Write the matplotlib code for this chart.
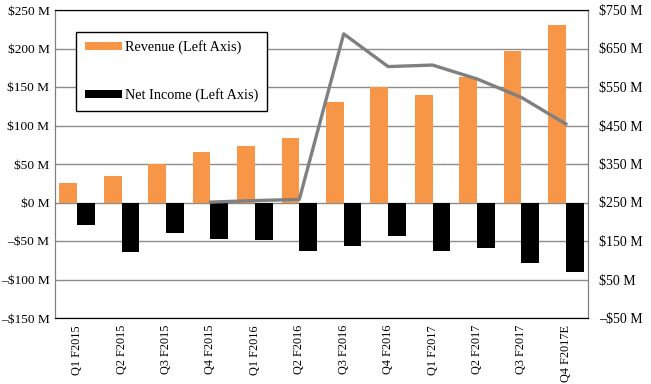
import matplotlib.pyplot as plt
import numpy as np
from matplotlib.ticker import FuncFormatter

quarters = ['Q1 F2015', 'Q2 F2015', 'Q3 F2015', 'Q4 F2015', 'Q1 F2016', 'Q2 F2016',
            'Q3 F2016', 'Q4 F2016', 'Q1 F2017', 'Q2 F2017', 'Q3 F2017', 'Q4 F2017E']
revenue = [25, 35, 50, 66, 74, 84, 131, 150, 140, 163, 197, 231]
net_income = [-29, -64, -40, -47, -49, -63, -57, -43, -63, -59, -79, -90]
# right axis series, starts at Q4 F2015
line_quarters = quarters[3:]
line_values = [251, 255, 258, 688, 603, 607, 571, 523, 454]

plt.rcParams['font.family'] = ['Liberation Serif', 'DejaVu Serif']

fig = plt.figure(figsize=(6.51, 3.84), dpi=100)
ax = fig.add_axes([55 / 651, 1 - 318 / 384, 533 / 651, 308 / 384])
ax2 = ax.twinx()

x = np.arange(len(quarters))
w = 0.4
ax.bar(x - w / 2, revenue, w, color='#F79646', label='Revenue (Left Axis)', zorder=3)
ax.bar(x + w / 2, net_income, w, color='black', label='Net Income (Left Axis)', zorder=3)

lx = [quarters.index(q) for q in line_quarters]
ax2.plot(lx, line_values, color='#808080', lw=2.4, zorder=4)

ax.set_xlim(-0.5, len(quarters) - 0.5)
ax.set_ylim(-150, 250)
ax.set_yticks(np.arange(-150, 251, 50))
ax2.set_ylim(-50, 750)
ax2.set_yticks(np.arange(-50, 751, 100))

fmt = FuncFormatter(lambda v, p: ('\u2013$%d M' % abs(v)) if v < 0 else ('$%d M' % v))
ax.yaxis.set_major_formatter(fmt)
ax2.yaxis.set_major_formatter(fmt)

ax.set_xticks(x)
ax.set_xticklabels(quarters, rotation=90, fontsize=8.8)
ax.tick_params(axis='y', length=0, labelsize=9.6, pad=4)
ax2.tick_params(axis='y', length=0, labelsize=10, pad=8)
ax.tick_params(axis='x', length=0, pad=5)

ax.grid(axis='y', color='#8c8c8c', lw=1, zorder=0)
for a in (ax, ax2):
    a.spines['left'].set_color('#7f7f7f')
    a.spines['right'].set_color('#7f7f7f')
    a.spines['top'].set_color('black')
    a.spines['bottom'].set_color('black')

leg = ax.legend(loc='upper left', bbox_to_anchor=(0.04, 0.93), fontsize=10.3,
                frameon=True, fancybox=False, edgecolor='black', framealpha=1,
                handlelength=2.6, handleheight=0.45, labelspacing=2.4,
                borderpad=0.6, handletextpad=0.2, borderaxespad=0)
leg.get_frame().set_linewidth(1)

fig.savefig('out.png', dpi=100)
